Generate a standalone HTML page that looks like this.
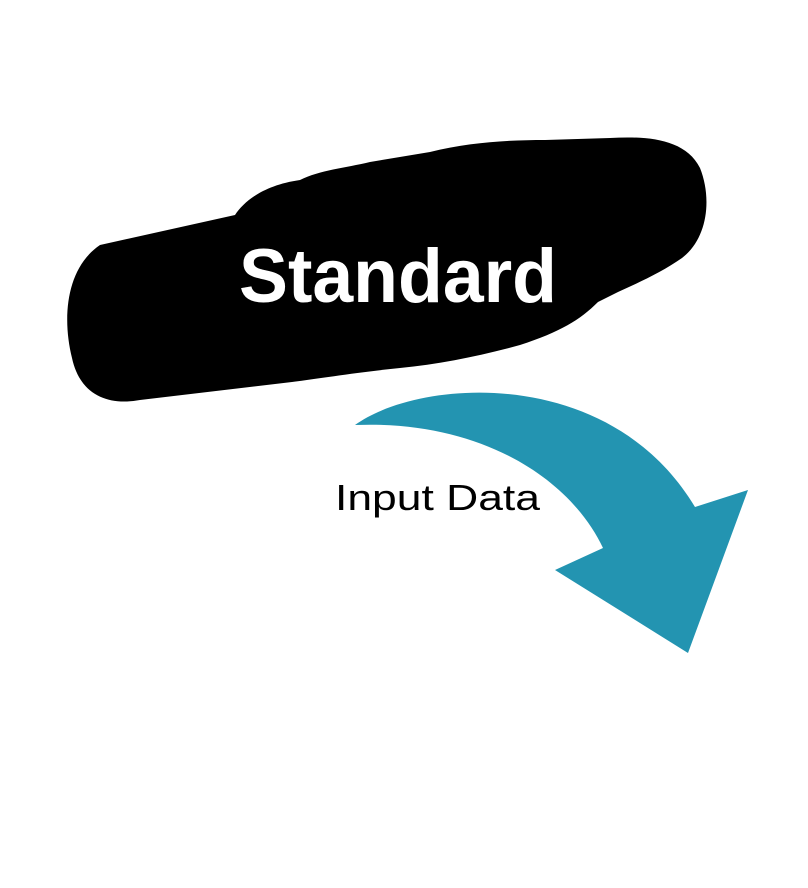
<!DOCTYPE html>
<html><head><meta charset="utf-8"><style>html,body{margin:0;padding:0;background:#fff}</style></head>
<body>
<svg width="808" height="883" viewBox="0 0 808 883" xmlns="http://www.w3.org/2000/svg">
<rect width="808" height="883" fill="#fff"/>
<path d="M100,245 L235,215 C245,200 265,185 300,180 C320,170 345,168 370,162 L430,152 C470,142 510,140 545,140 L610,138 C645,136 685,138 700,168 C712,198 708,238 682,258 C662,272 640,282 618,292 L598,302 C580,320 560,332 520,345 C480,356 440,364 400,368 C360,372 322,378 292,382 L140,400 C108,406 80,395 72,358 C62,318 66,268 100,245 Z" fill="#000"/>
<text x="398" y="302" text-anchor="middle" font-family="Liberation Sans, sans-serif" font-size="76" font-weight="bold" fill="#fff" textLength="318" lengthAdjust="spacingAndGlyphs">Standard</text>
<path d="M355,425 C420,378 610,365 695,507 L748,490 L688,653 L555,570 L603,548 C570,478 480,420 355,425 Z" fill="#2394b1"/>
<text x="335" y="510" font-family="Liberation Sans, sans-serif" font-size="36" fill="#000" textLength="205" lengthAdjust="spacingAndGlyphs">Input Data</text>
</svg>
</body></html>
